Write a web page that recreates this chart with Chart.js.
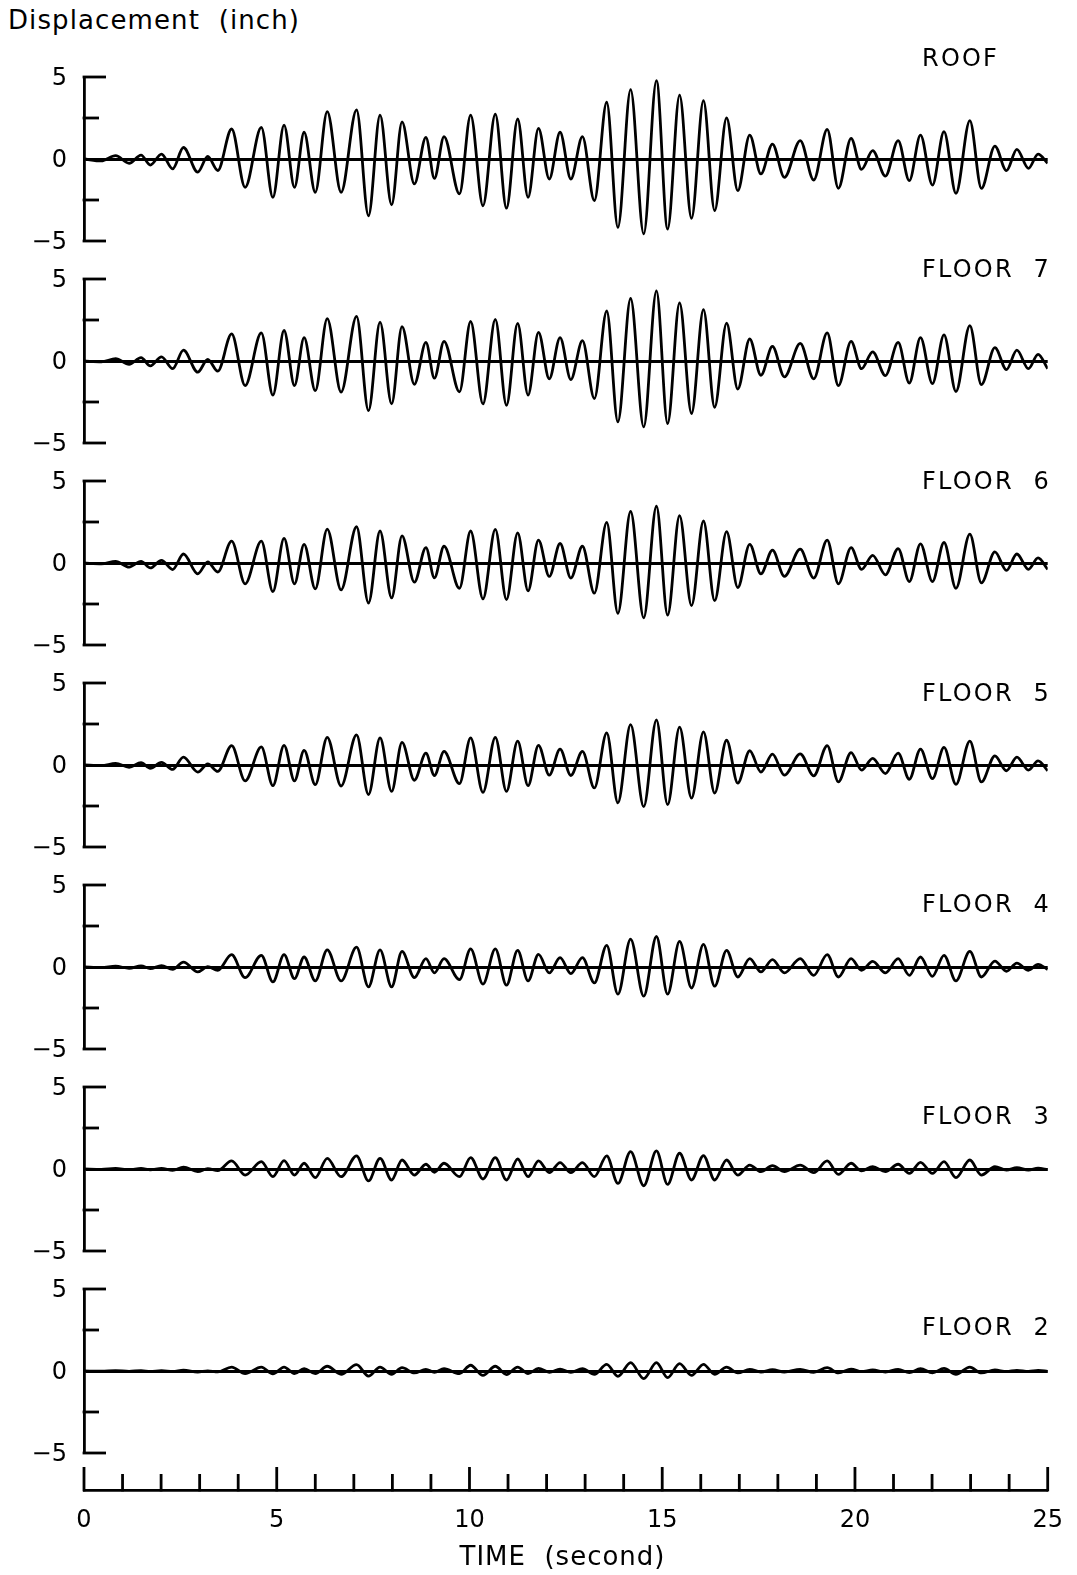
<!DOCTYPE html>
<html>
<head>
<meta charset="utf-8">
<script src="https://cdn.jsdelivr.net/npm/chart.js@4.4.1/dist/chart.umd.min.js"></script>
<style>
  html, body { margin: 0; padding: 0; background: #fff; }
  #page { position: relative; width: 1077px; height: 1575px; overflow: hidden; background: #fff; }
  #page canvas { position: absolute; left: 0; }
  .lbl { position: absolute; font-family: 'DejaVu Sans', sans-serif; color: #000; white-space: pre; line-height: 1; }
</style>
</head>
<body>
<div id="page"></div>
<script>
// Times (s) of successive response extrema, shared by all levels
const timeSec = [
  0, 0.45, 0.82, 1.17, 1.48, 1.72, 2.01, 2.30, 2.58, 2.95,
  3.21, 3.47, 3.83, 4.18, 4.60, 4.90, 5.19, 5.46, 5.71, 6.00,
  6.31, 6.67, 7.07, 7.38, 7.68, 7.98, 8.25, 8.57, 8.87, 9.09,
  9.34, 9.74, 10.03, 10.35, 10.67, 10.96, 11.25, 11.52, 11.79, 12.07,
  12.35, 12.63, 12.93, 13.24, 13.56, 13.85, 14.18, 14.52, 14.85, 15.14,
  15.45, 15.76, 16.07, 16.36, 16.67, 16.96, 17.27, 17.56, 17.86, 18.17,
  18.58, 18.93, 19.28, 19.57, 19.90, 20.17, 20.46, 20.79, 21.12, 21.41,
  21.70, 22.01, 22.31, 22.62, 22.98, 23.28, 23.63, 23.93, 24.20, 24.50,
  24.75, 25.0
];

// Displacement (inch) at those instants, one array per level
const roofDisp = [
  0, -0.12, 0.2, -0.26, 0.24, -0.37, 0.3, -0.6, 0.7, -0.8,
  0.16, -0.7, 1.83, -1.73, 1.93, -2.34, 2.07, -1.73, 1.63, -2.03,
  2.89, -2.03, 3.0, -3.46, 2.68, -2.8, 2.26, -1.52, 1.32, -1.18,
  1.36, -2.13, 2.68, -2.85, 2.74, -3.0, 2.44, -2.34, 1.87, -1.22,
  1.63, -1.22, 1.36, -2.54, 3.46, -4.17, 4.23, -4.57, 4.78, -4.27,
  3.9, -3.62, 3.56, -3.15, 2.51, -1.93, 1.46, -0.91, 0.91, -1.12,
  1.12, -1.28, 1.81, -1.79, 1.26, -0.63, 0.51, -1.04, 1.12, -1.32,
  1.46, -1.59, 1.67, -2.09, 2.34, -1.79, 0.79, -0.71, 0.59, -0.57,
  0.3, -0.26
];
const floor7Disp = [
  0, -0.05, 0.14, -0.2, 0.2, -0.3, 0.25, -0.47, 0.66, -0.68,
  0.1, -0.62, 1.65, -1.5, 1.71, -2.08, 1.86, -1.5, 1.42, -1.81,
  2.58, -1.9, 2.72, -3.03, 2.37, -2.62, 2.1, -1.42, 1.13, -1.05,
  1.2, -1.88, 2.41, -2.62, 2.54, -2.7, 2.29, -2.08, 1.75, -1.09,
  1.42, -1.13, 1.24, -2.29, 3.05, -3.71, 3.81, -4.02, 4.27, -3.81,
  3.55, -3.2, 3.13, -2.82, 2.31, -1.71, 1.34, -0.87, 0.89, -0.97,
  1.07, -1.09, 1.71, -1.5, 1.2, -0.47, 0.56, -0.89, 1.13, -1.34,
  1.42, -1.38, 1.59, -1.86, 2.16, -1.44, 0.82, -0.52, 0.66, -0.47,
  0.41, -0.47
];
const floor6Disp = [
  0, -0.05, 0.1, -0.25, 0.1, -0.3, 0.16, -0.4, 0.55, -0.66,
  0.06, -0.55, 1.33, -1.27, 1.33, -1.74, 1.5, -1.27, 1.13, -1.58,
  2.07, -1.64, 2.21, -2.44, 1.95, -2.13, 1.66, -1.17, 0.94, -0.9,
  1.02, -1.54, 1.95, -2.19, 2.05, -2.23, 1.84, -1.7, 1.39, -0.82,
  1.19, -0.92, 1.02, -1.84, 2.48, -3.07, 3.14, -3.34, 3.46, -3.18,
  2.89, -2.6, 2.56, -2.3, 1.91, -1.5, 1.13, -0.66, 0.78, -0.82,
  0.84, -0.92, 1.39, -1.27, 0.94, -0.39, 0.47, -0.72, 0.88, -1.13,
  1.17, -1.13, 1.25, -1.54, 1.76, -1.21, 0.68, -0.45, 0.55, -0.39,
  0.31, -0.39
];
const floor5Disp = [
  0, -0.04, 0.1, -0.14, 0.14, -0.2, 0.16, -0.27, 0.48, -0.43,
  0.06, -0.39, 1.18, -0.97, 1.1, -1.26, 1.2, -0.97, 0.89, -1.2,
  1.69, -1.28, 1.84, -1.8, 1.65, -1.61, 1.38, -0.93, 0.72, -0.64,
  0.83, -1.14, 1.65, -1.67, 1.69, -1.61, 1.45, -1.26, 1.2, -0.62,
  0.97, -0.64, 0.83, -1.4, 1.96, -2.31, 2.46, -2.54, 2.75, -2.42,
  2.31, -2.02, 2.02, -1.71, 1.51, -1.1, 0.87, -0.43, 0.66, -0.62,
  0.68, -0.66, 1.18, -1.03, 0.76, -0.31, 0.41, -0.52, 0.72, -0.87,
  0.97, -0.83, 1.07, -1.18, 1.45, -1.03, 0.56, -0.35, 0.48, -0.31,
  0.25, -0.35
];
const floor4Disp = [
  0, -0.03, 0.05, -0.08, 0.06, -0.1, 0.08, -0.15, 0.3, -0.3,
  0.02, -0.2, 0.75, -0.65, 0.71, -0.91, 0.75, -0.71, 0.61, -0.85,
  1.05, -0.85, 1.21, -1.21, 1.05, -1.21, 0.95, -0.65, 0.51, -0.36,
  0.51, -0.77, 1.11, -1.05, 1.11, -1.11, 1.01, -0.85, 0.77, -0.36,
  0.57, -0.4, 0.57, -0.97, 1.32, -1.66, 1.7, -1.78, 1.86, -1.66,
  1.56, -1.28, 1.38, -1.17, 1.01, -0.61, 0.51, -0.3, 0.45, -0.36,
  0.51, -0.51, 0.75, -0.61, 0.51, -0.2, 0.34, -0.36, 0.51, -0.51,
  0.61, -0.57, 0.71, -0.85, 0.95, -0.61, 0.36, -0.26, 0.24, -0.2,
  0.16, -0.16
];
const floor3Disp = [
  0, -0.02, 0.03, -0.04, 0.03, -0.05, 0.04, -0.08, 0.12, -0.16,
  0.02, -0.1, 0.49, -0.37, 0.45, -0.47, 0.51, -0.37, 0.35, -0.53,
  0.65, -0.47, 0.8, -0.73, 0.65, -0.67, 0.55, -0.37, 0.29, -0.2,
  0.35, -0.47, 0.69, -0.61, 0.69, -0.67, 0.61, -0.47, 0.49, -0.22,
  0.39, -0.22, 0.39, -0.47, 0.8, -0.88, 1.06, -1.02, 1.1, -0.94,
  0.96, -0.67, 0.82, -0.67, 0.55, -0.37, 0.24, -0.16, 0.2, -0.16,
  0.24, -0.22, 0.49, -0.33, 0.35, -0.12, 0.14, -0.16, 0.29, -0.27,
  0.41, -0.27, 0.45, -0.53, 0.55, -0.37, 0.14, -0.06, 0.08, -0.06,
  0.05, -0.04
];
const floor2Disp = [
  0, -0.01, 0.02, -0.02, 0.02, -0.03, 0.02, -0.03, 0.05, -0.06,
  0.01, -0.05, 0.24, -0.16, 0.24, -0.18, 0.24, -0.16, 0.15, -0.16,
  0.29, -0.2, 0.39, -0.31, 0.24, -0.2, 0.2, -0.12, 0.1, -0.08,
  0.14, -0.16, 0.35, -0.27, 0.29, -0.22, 0.24, -0.16, 0.16, -0.08,
  0.12, -0.08, 0.14, -0.2, 0.41, -0.33, 0.51, -0.47, 0.51, -0.41,
  0.45, -0.27, 0.41, -0.2, 0.24, -0.12, 0.1, -0.06, 0.08, -0.06,
  0.1, -0.08, 0.2, -0.12, 0.12, -0.04, 0.06, -0.06, 0.1, -0.1,
  0.14, -0.12, 0.16, -0.2, 0.24, -0.12, 0.06, -0.04, 0.04, -0.03,
  0.03, -0.02
];

const levelNames = ['ROOF', 'FLOOR  7', 'FLOOR  6', 'FLOOR  5', 'FLOOR  4', 'FLOOR  3', 'FLOOR  2'];
const levelSeries = [roofDisp, floor7Disp, floor6Disp, floor5Disp, floor4Disp, floor3Disp, floor2Disp];

// Axis ticks
const yTickMarks = [-5, -2.5, 0, 2.5, 5];
const yTickLabels = [-5, 0, 5];
const xTickMarks = [0, 1, 2, 3, 4, 5, 6, 7, 8, 9, 10, 11, 12, 13, 14, 15, 16, 17, 18, 19, 20, 21, 22, 23, 24, 25];
const xTickLabels = [0, 5, 10, 15, 20, 25];

const yTitle = 'Displacement  (inch)';
const xTitle = 'TIME  (second)';

// ---- layout (pixels) ----
const PAGE_W = 1077;
const PLOT_LEFT = 84;
const PLOT_RIGHT = 1047.7;
const ZERO_FIRST = 158.5;   // zero line of the top panel
const PANEL_STEP = 202;     // distance between panel zero lines
const HALF_H = 82;          // 5 inch in pixels
const PAD = 40;             // room above/below each panel for its tick labels
const LINE_W = 2.8;

Chart.defaults.font.family = "'DejaVu Sans', sans-serif";
Chart.defaults.color = '#000';

const page = document.getElementById('page');

function fmtY(v) {
  return v < 0 ? '\u2212' + Math.abs(v) : String(v);
}

// Short tick marks drawn from the axis line into the plot
const inwardTicks = {
  id: 'inwardTicks',
  afterDraw(chart, args, opts) {
    const ctx = chart.ctx;
    ctx.save();
    ctx.strokeStyle = '#000';
    ctx.lineWidth = LINE_W;
    ctx.lineCap = 'butt';
    if (opts.axis === 'y') {
      const s = chart.scales.y;
      yTickMarks.forEach(v => {
        if (v === 0) return;
        const y = s.getPixelForValue(v);
        const len = Math.abs(v) === 5 ? 22 : 15;
        ctx.beginPath();
        ctx.moveTo(s.right - LINE_W / 2, y);
        ctx.lineTo(s.right + len, y);
        ctx.stroke();
      });
    } else if (opts.axis === 'x') {
      const s = chart.scales.x;
      xTickMarks.forEach(t => {
        const x = s.getPixelForValue(t);
        const len = xTickLabels.includes(t) ? 23 : 16;
        ctx.beginPath();
        ctx.moveTo(x, s.top + LINE_W / 2);
        ctx.lineTo(x, s.top - len);
        ctx.stroke();
      });
    }
    ctx.restore();
  }
};

function addCanvas(top, height, width) {
  const w = width || PAGE_W;
  const c = document.createElement('canvas');
  c.width = w;
  c.height = height;
  c.style.top = top + 'px';
  c.style.width = w + 'px';
  c.style.height = height + 'px';
  page.appendChild(c);
  return c;
}

function addLabel(text, left, centerY, size, spacing) {
  const d = document.createElement('div');
  d.className = 'lbl';
  d.textContent = text;
  d.style.fontSize = size + 'px';
  d.style.letterSpacing = spacing + 'px';
  d.style.left = left + 'px';
  d.style.top = (centerY - size * 0.48) + 'px';
  page.appendChild(d);
  return d;
}

// One panel per level
levelSeries.forEach((vals, i) => {
  const zero = ZERO_FIRST + PANEL_STEP * i;
  const canvas = addCanvas(zero - HALF_H - PAD, 2 * HALF_H + 2 * PAD);
  new Chart(canvas, {
    type: 'line',
    data: {
      datasets: [{
        data: timeSec.map((t, k) => ({ x: t, y: vals[k] })),
        borderColor: '#000',
        borderWidth: 2.8,
        pointRadius: 0,
        fill: false,
        cubicInterpolationMode: 'monotone'
      }]
    },
    options: {
      responsive: false,
      animation: false,
      devicePixelRatio: 1,
      events: [],
      layout: { padding: { top: PAD, bottom: PAD, left: 0, right: PAGE_W - PLOT_RIGHT } },
      plugins: {
        legend: { display: false },
        tooltip: { enabled: false },
        inwardTicks: { axis: 'y' }
      },
      scales: {
        x: { type: 'linear', min: 0, max: 25, display: false },
        y: {
          type: 'linear',
          min: -5,
          max: 5,
          afterBuildTicks: s => { s.ticks = yTickMarks.map(v => ({ value: v })); },
          afterFit: s => { s.width = PLOT_LEFT; },
          ticks: {
            padding: 17,
            labelOffset: 2,
            color: '#000',
            autoSkip: false,
            font: { size: 24 },
            callback: v => yTickLabels.includes(v) ? fmtY(v) : ''
          },
          grid: {
            drawTicks: false,
            color: '#000',
            lineWidth: c => (c.tick && c.tick.value === 0) ? 3 : 0
          },
          border: { display: true, color: '#000', width: LINE_W }
        }
      }
    },
    plugins: [inwardTicks]
  });
});

// Shared time axis along the bottom (canvas runs past the page edge so the
// last label never squeezes the axis)
(function () {
  const top = 1440;
  const w = PAGE_W + 60;
  const canvas = addCanvas(top, 1575 - top, w);
  new Chart(canvas, {
    type: 'line',
    data: { datasets: [] },
    options: {
      responsive: false,
      animation: false,
      devicePixelRatio: 1,
      events: [],
      layout: { padding: { top: 20, bottom: 0, left: PLOT_LEFT, right: w - PLOT_RIGHT } },
      plugins: {
        legend: { display: false },
        tooltip: { enabled: false },
        inwardTicks: { axis: 'x' }
      },
      scales: {
        x: {
          type: 'linear',
          min: 0,
          max: 25,
          afterBuildTicks: s => { s.ticks = xTickMarks.map(v => ({ value: v })); },
          afterFit: s => { s.height = 85; },
          ticks: {
            padding: 16,
            color: '#000',
            autoSkip: false,
            maxRotation: 0,
            font: { size: 24 },
            callback: v => xTickLabels.includes(v) ? String(v) : ''
          },
          grid: { drawTicks: false, color: 'rgba(0,0,0,0)', lineWidth: 0 },
          border: { display: true, color: '#000', width: LINE_W }
        },
        y: { display: false, min: 0, max: 1 }
      }
    },
    plugins: [inwardTicks]
  });
})();

// Texts
addLabel(yTitle, 8, 19, 26, 1.1);
levelNames.forEach((name, i) => {
  addLabel(name, 922, 57.3 + 211.6 * i, 24, 2.2);
});
const xt = addLabel(xTitle, 0, 1555, 26, 1.0);
xt.style.left = (562.5 - xt.offsetWidth / 2) + 'px';
</script>
</body>
</html>
